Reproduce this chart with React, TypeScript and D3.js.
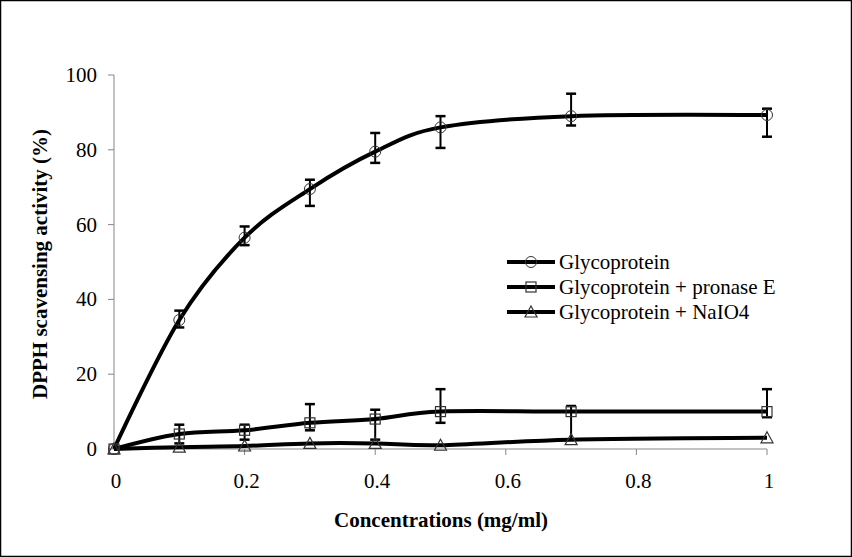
import { useEffect, useRef } from 'react';
import * as d3 from 'd3';

const conc = [0, 0.1, 0.2, 0.3, 0.4, 0.5, 0.7, 1.0];

const glyco = [0, 34.5, 56.5, 69.5, 79.5, 86, 89, 89.3];
const glycoLo = [0, 32.5, 54.5, 65, 76.5, 80.5, 86.5, 83.5];
const glycoHi = [0, 37, 59.5, 72, 84.5, 89, 95, 91];

const pronase = [0, 4, 5, 7, 8, 10, 10, 10];
const pronaseLo = [0, 1.5, 2.5, 5, 2.5, 7, 2.5, 8.5];
const pronaseHi = [0, 6.5, 6.5, 12, 10.5, 16, 11.5, 16];

const naio4 = [0, 0.5, 0.8, 1.5, 1.5, 1, 2.5, 3];

const xTicks = [0, 0.2, 0.4, 0.6, 0.8, 1];
const yTicks = [0, 20, 40, 60, 80, 100];

const seriesNames = ['Glycoprotein', 'Glycoprotein + pronase E', 'Glycoprotein + NaIO4'];

const W = 852;
const H = 557;
const FONT = 'Liberation Serif';
const FS = 21;

export default function App() {
  const svgRef = useRef<SVGSVGElement>(null);

  useEffect(() => {
    if (!svgRef.current) return;
    const svg = d3.select(svgRef.current);
    svg.selectAll('*').remove();

    const x = d3.scaleLinear().domain([0, 1]).range([114, 767]);
    const y = d3.scaleLinear().domain([0, 100]).range([449, 75]);

    svg.append('rect')
      .attr('x', 0.5).attr('y', 0.5)
      .attr('width', W - 1).attr('height', H - 1)
      .attr('fill', 'white').attr('stroke', 'black').attr('stroke-width', 1.5);

    const axisColor = '#868686';

    // y axis
    svg.append('line')
      .attr('x1', x(0)).attr('x2', x(0)).attr('y1', y(0)).attr('y2', y(100))
      .attr('stroke', axisColor);
    yTicks.forEach(t => {
      svg.append('line')
        .attr('x1', x(0) - 6).attr('x2', x(0)).attr('y1', y(t)).attr('y2', y(t))
        .attr('stroke', axisColor);
      svg.append('text')
        .attr('x', 97).attr('y', y(t) + 7)
        .attr('text-anchor', 'end')
        .attr('font-family', FONT).attr('font-size', FS)
        .text(t);
    });

    // x axis
    svg.append('line')
      .attr('x1', x(0)).attr('x2', x(1)).attr('y1', y(0)).attr('y2', y(0))
      .attr('stroke', axisColor);
    xTicks.forEach(t => {
      svg.append('text')
        .attr('x', x(t) + 2).attr('y', 488)
        .attr('text-anchor', 'middle')
        .attr('font-family', FONT).attr('font-size', FS)
        .text(t);
      if (t === 0) return;
      svg.append('line')
        .attr('x1', x(t)).attr('x2', x(t)).attr('y1', y(0)).attr('y2', y(0) + 6)
        .attr('stroke', axisColor);
    });

    svg.append('text')
      .attr('x', 441).attr('y', 527)
      .attr('text-anchor', 'middle')
      .attr('font-family', FONT).attr('font-size', FS).attr('font-weight', 'bold')
      .text('Concentrations (mg/ml)');

    svg.append('text')
      .attr('transform', `translate(47,264) rotate(-90)`)
      .attr('text-anchor', 'middle')
      .attr('font-family', FONT).attr('font-size', FS).attr('font-weight', 'bold')
      .text('DPPH scavensing activity (%)');

    const line = d3.line<number>()
      .x((_, i) => x(conc[i]))
      .y(d => y(d))
      .curve(d3.curveCardinal.tension(0));

    [naio4, pronase, glyco].forEach(s => {
      svg.append('path')
        .attr('d', line(s))
        .attr('fill', 'none')
        .attr('stroke', 'black')
        .attr('stroke-width', 4);
    });

    // error bars
    const errs: [number[], number[]][] = [[glycoLo, glycoHi], [pronaseLo, pronaseHi]];
    errs.forEach(([lo, hi]) => {
      conc.forEach((c, i) => {
        if (i === 0) return;
        const cx = x(c);
        svg.append('line')
          .attr('x1', cx).attr('x2', cx).attr('y1', y(lo[i])).attr('y2', y(hi[i]))
          .attr('stroke', 'black').attr('stroke-width', 2);
        [lo[i], hi[i]].forEach(v => {
          svg.append('line')
            .attr('x1', cx - 5).attr('x2', cx + 5).attr('y1', y(v)).attr('y2', y(v))
            .attr('stroke', 'black').attr('stroke-width', 2.5);
        });
      });
    });

    const markerStroke = '#333';
    const drawMarker = (g: d3.Selection<SVGGElement, unknown, null, undefined>, kind: number, cx: number, cy: number) => {
      if (kind === 0) {
        g.append('circle').attr('cx', cx).attr('cy', cy).attr('r', 5.5)
          .attr('fill', 'none').attr('stroke', markerStroke).attr('stroke-width', 1);
      } else if (kind === 1) {
        g.append('rect').attr('x', cx - 5).attr('y', cy - 5).attr('width', 10).attr('height', 10)
          .attr('fill', 'none').attr('stroke', markerStroke).attr('stroke-width', 1.2);
      } else {
        g.append('path')
          .attr('d', `M${cx},${cy - 6}L${cx + 6},${cy + 5}L${cx - 6},${cy + 5}Z`)
          .attr('fill', 'none').attr('stroke', markerStroke).attr('stroke-width', 1.2);
      }
    };

    const mg = svg.append('g');
    [glyco, pronase, naio4].forEach((s, k) => {
      s.forEach((v, i) => drawMarker(mg, k, x(conc[i]), y(v)));
    });

    // legend
    const lg = svg.append('g');
    seriesNames.forEach((name, k) => {
      const ly = 262 + k * 25;
      lg.append('line')
        .attr('x1', 507).attr('x2', 555).attr('y1', ly).attr('y2', ly)
        .attr('stroke', 'black').attr('stroke-width', 4);
      drawMarker(lg, k, 531, ly);
      lg.append('text')
        .attr('x', 559).attr('y', ly + 7)
        .attr('font-family', FONT).attr('font-size', FS)
        .text(name);
    });
  }, []);

  return (
    <svg
      ref={svgRef}
      width={W}
      height={H}
      style={{ position: 'absolute', left: 0, top: 0 }}
    />
  );
}
